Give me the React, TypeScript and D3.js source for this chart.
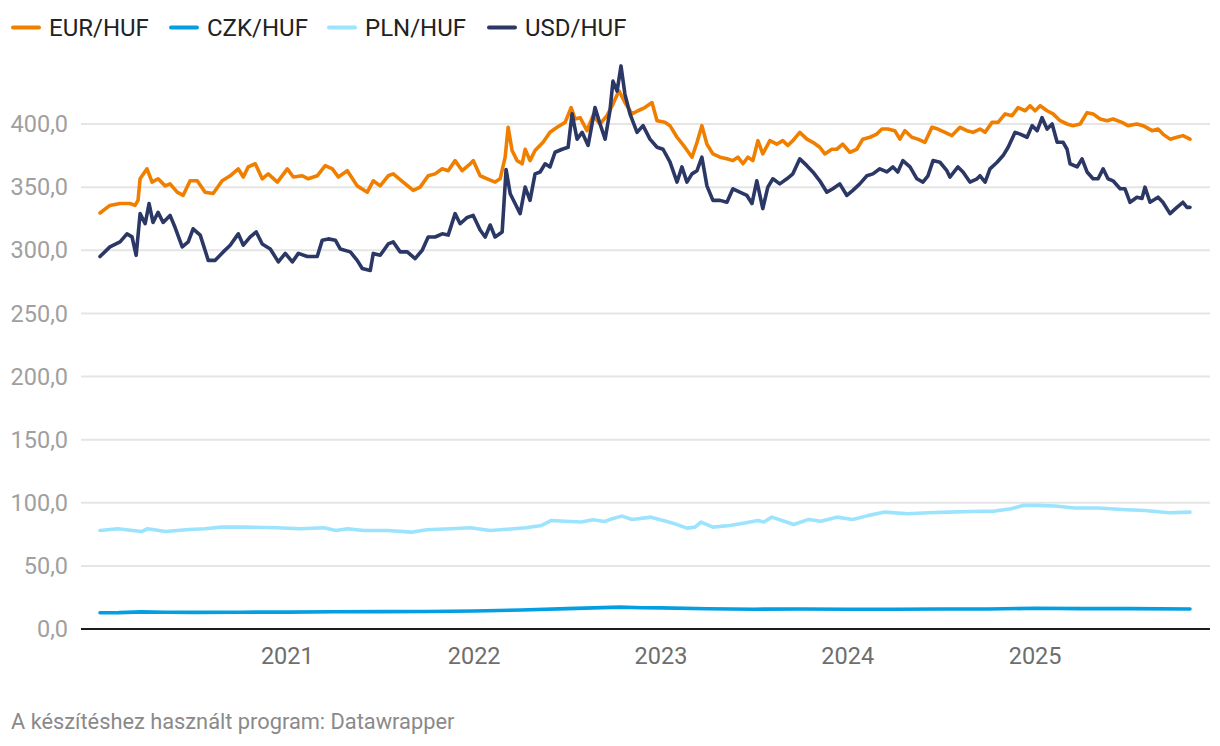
import { useMemo } from "react";
import * as d3 from "d3";

// values, [decimal year, HUF]
const EUR_HUF: [number, number][] = [
  [2020.0, 329.5], [2020.053, 335.5], [2020.107, 337], [2020.16, 337], [2020.187, 335.5], [2020.203, 339.5],
  [2020.214, 356.6], [2020.251, 364.5], [2020.278, 354], [2020.31, 356.6], [2020.348, 351], [2020.374, 352.6],
  [2020.412, 346], [2020.444, 343.5], [2020.481, 355], [2020.519, 355], [2020.561, 346], [2020.604, 345],
  [2020.652, 355], [2020.695, 359], [2020.738, 364.5], [2020.765, 358], [2020.791, 366], [2020.829, 368.5],
  [2020.866, 356.6], [2020.898, 360.5], [2020.947, 354], [2021.0, 364.5], [2021.032, 358], [2021.08, 359],
  [2021.112, 356.6], [2021.16, 359], [2021.203, 367], [2021.241, 364.5], [2021.273, 358], [2021.321, 363],
  [2021.374, 351], [2021.428, 346], [2021.46, 355], [2021.497, 351], [2021.54, 359], [2021.567, 360.5],
  [2021.62, 354], [2021.674, 347.4], [2021.711, 350], [2021.754, 359], [2021.791, 360.5], [2021.829, 364.5],
  [2021.861, 363], [2021.898, 371], [2021.936, 363], [2021.979, 368.5], [2021.995, 371], [2022.032, 359],
  [2022.07, 356.6], [2022.112, 354], [2022.139, 356.6], [2022.166, 373.7], [2022.182, 397.4], [2022.203, 379],
  [2022.23, 371], [2022.257, 368.5], [2022.273, 380], [2022.299, 371], [2022.326, 379], [2022.369, 385.5],
  [2022.406, 393.4], [2022.444, 397.4], [2022.487, 401.3], [2022.519, 413], [2022.54, 404], [2022.567, 405],
  [2022.604, 394.7], [2022.636, 406.6], [2022.674, 400], [2022.711, 406.6], [2022.743, 415.8], [2022.775, 426.3],
  [2022.807, 417], [2022.845, 408], [2022.877, 410.5], [2022.914, 413], [2022.952, 417], [2022.979, 402.6],
  [2023.021, 401.3], [2023.048, 398.7], [2023.086, 389.5], [2023.128, 381.6], [2023.166, 373.7], [2023.193, 385.5],
  [2023.219, 398.7], [2023.246, 384], [2023.278, 376.3], [2023.316, 373.7], [2023.353, 372.4], [2023.385, 371],
  [2023.412, 373.7], [2023.439, 368.5], [2023.465, 373.7], [2023.492, 371], [2023.519, 386.8], [2023.545, 376.3],
  [2023.583, 386.8], [2023.62, 384], [2023.652, 386.8], [2023.679, 383], [2023.706, 386.8], [2023.743, 393.4],
  [2023.781, 388], [2023.813, 385.5], [2023.85, 381.6], [2023.877, 376.3], [2023.914, 380], [2023.941, 380],
  [2023.973, 384], [2024.011, 377.6], [2024.048, 380], [2024.08, 388], [2024.118, 389.5], [2024.155, 392],
  [2024.182, 396], [2024.214, 396], [2024.251, 394.7], [2024.278, 388], [2024.305, 394.7], [2024.342, 389.5],
  [2024.374, 388], [2024.412, 385.5], [2024.449, 397.4], [2024.481, 396], [2024.519, 393.4], [2024.556, 390.8],
  [2024.599, 397.4], [2024.636, 394.7], [2024.668, 393.4], [2024.706, 396], [2024.733, 393.4], [2024.77, 401.3],
  [2024.802, 401.3], [2024.84, 408], [2024.877, 406.6], [2024.909, 413], [2024.947, 410.5], [2024.973, 414.5],
  [2025.0, 410.5], [2025.027, 414.5], [2025.064, 410.5], [2025.096, 408], [2025.134, 402.6], [2025.171, 400],
  [2025.203, 398.7], [2025.241, 400], [2025.278, 409], [2025.31, 408], [2025.348, 404], [2025.385, 402.6],
  [2025.417, 404], [2025.465, 401.3], [2025.497, 398.7], [2025.545, 400], [2025.578, 398.7], [2025.626, 394.7],
  [2025.658, 396], [2025.684, 392], [2025.722, 388], [2025.759, 389.5], [2025.791, 390.8], [2025.829, 388],
];

const CZK_HUF: [number, number][] = [
  [2020.0, 12.9], [2020.1, 13.0], [2020.22, 13.6], [2020.35, 13.3], [2020.5, 13.2], [2020.75, 13.3],
  [2021.0, 13.4], [2021.25, 13.7], [2021.5, 13.8], [2021.75, 13.9], [2022.0, 14.3], [2022.25, 15.0],
  [2022.5, 16.1], [2022.78, 17.3], [2022.9, 16.8], [2023.0, 16.7], [2023.25, 16.0], [2023.5, 15.7],
  [2023.75, 15.9], [2024.0, 15.6], [2024.25, 15.7], [2024.5, 15.9], [2024.75, 15.8], [2025.0, 16.4],
  [2025.25, 16.1], [2025.5, 16.1], [2025.829, 15.9],
];

const PLN_HUF: [number, number][] = [
  [2020.0, 78.0], [2020.095, 79.4], [2020.222, 77.2], [2020.254, 79.4], [2020.349, 77.2], [2020.476, 78.8],
  [2020.561, 79.4], [2020.646, 80.7], [2020.773, 80.7], [2020.942, 80.2], [2021.07, 79.4], [2021.196, 80.2],
  [2021.26, 78.0], [2021.323, 79.4], [2021.408, 78.0], [2021.535, 78.0], [2021.662, 76.7], [2021.747, 78.6],
  [2021.874, 79.4], [2021.98, 80.2], [2022.086, 78.0], [2022.213, 79.4], [2022.276, 80.2], [2022.361, 82.0],
  [2022.414, 86.0], [2022.488, 85.4], [2022.573, 84.7], [2022.636, 86.5], [2022.7, 85.2], [2022.738, 87.3],
  [2022.791, 89.4], [2022.845, 86.8], [2022.947, 88.6], [2023.011, 86.0], [2023.075, 83.3], [2023.139, 79.9],
  [2023.182, 80.7], [2023.214, 84.7], [2023.278, 80.7], [2023.369, 82.0], [2023.455, 84.1], [2023.519, 86.0],
  [2023.551, 84.7], [2023.594, 88.6], [2023.647, 86.0], [2023.711, 82.8], [2023.791, 86.8], [2023.856, 85.4],
  [2023.941, 88.6], [2024.027, 86.8], [2024.112, 90.0], [2024.198, 92.6], [2024.321, 91.3], [2024.428, 92.1],
  [2024.535, 92.6], [2024.663, 93.1], [2024.786, 93.4], [2024.872, 95.2], [2024.936, 97.9], [2025.0, 97.9],
  [2025.107, 97.4], [2025.209, 95.8], [2025.337, 95.8], [2025.465, 94.7], [2025.588, 93.9], [2025.717, 92.1],
  [2025.829, 92.6],
];

const USD_HUF: [number, number][] = [
  [2020.0, 295], [2020.053, 302.7], [2020.107, 306.6], [2020.144, 313], [2020.171, 310.6], [2020.193, 296],
  [2020.214, 329], [2020.241, 321], [2020.262, 337], [2020.283, 322], [2020.31, 330], [2020.337, 322],
  [2020.374, 327.6], [2020.401, 318], [2020.439, 302.7], [2020.471, 306.6], [2020.497, 317], [2020.535, 312],
  [2020.578, 292], [2020.615, 292], [2020.658, 298.7], [2020.695, 304], [2020.738, 313], [2020.765, 304],
  [2020.802, 310.6], [2020.834, 314.5], [2020.866, 305], [2020.909, 301], [2020.952, 290.8], [2020.989, 297.5],
  [2021.027, 290.8], [2021.059, 297.5], [2021.107, 295], [2021.16, 295], [2021.187, 308], [2021.219, 309],
  [2021.257, 308], [2021.283, 301], [2021.337, 298.7], [2021.374, 292], [2021.401, 285.6], [2021.444, 284],
  [2021.46, 297.5], [2021.497, 296], [2021.54, 305], [2021.567, 306.6], [2021.604, 298.7], [2021.642, 298.7],
  [2021.684, 293.4], [2021.722, 300], [2021.754, 310.5], [2021.791, 310.5], [2021.829, 313], [2021.861, 312],
  [2021.898, 329], [2021.925, 321], [2021.963, 326], [2021.995, 327.6], [2022.032, 316], [2022.059, 310.5],
  [2022.086, 320], [2022.112, 310.5], [2022.15, 314.5], [2022.171, 364], [2022.193, 344.7], [2022.219, 337],
  [2022.246, 329], [2022.273, 350], [2022.299, 339.5], [2022.326, 360.5], [2022.353, 362], [2022.38, 368.5],
  [2022.406, 366], [2022.433, 377.6], [2022.471, 380], [2022.503, 381.6], [2022.524, 408], [2022.551, 388],
  [2022.578, 393.4], [2022.61, 383], [2022.647, 413], [2022.674, 400], [2022.701, 388], [2022.727, 410.5],
  [2022.743, 434], [2022.765, 426], [2022.786, 446], [2022.807, 423.7], [2022.834, 408], [2022.872, 393.4],
  [2022.904, 398.7], [2022.941, 388], [2022.979, 381.6], [2023.011, 380], [2023.048, 370], [2023.086, 354],
  [2023.112, 366], [2023.139, 354], [2023.166, 360.5], [2023.193, 363], [2023.219, 373.7], [2023.246, 351],
  [2023.278, 339.5], [2023.316, 339.5], [2023.353, 338], [2023.385, 348.7], [2023.422, 346], [2023.46, 343.4],
  [2023.487, 337], [2023.513, 355], [2023.545, 333], [2023.572, 350], [2023.599, 356.6], [2023.636, 352.6],
  [2023.674, 356.6], [2023.706, 360.5], [2023.743, 372.4], [2023.781, 367], [2023.813, 362], [2023.85, 355],
  [2023.888, 346], [2023.92, 348.7], [2023.957, 352.6], [2023.995, 343.4], [2024.027, 347.4], [2024.064, 352.6],
  [2024.102, 359], [2024.134, 360.5], [2024.171, 364.5], [2024.209, 362], [2024.241, 366], [2024.267, 362],
  [2024.294, 371], [2024.332, 366], [2024.369, 356.6], [2024.401, 354], [2024.428, 359], [2024.455, 371],
  [2024.492, 369.7], [2024.529, 363], [2024.545, 358], [2024.588, 366], [2024.615, 362], [2024.652, 354],
  [2024.69, 356.6], [2024.706, 359], [2024.733, 354], [2024.759, 364.5], [2024.797, 369.7], [2024.829, 375],
  [2024.856, 381.6], [2024.893, 393.4], [2024.92, 392], [2024.957, 389.5], [2024.984, 398.7], [2025.011, 394.7],
  [2025.037, 405], [2025.064, 396], [2025.091, 400], [2025.118, 385.5], [2025.15, 385.5], [2025.171, 380],
  [2025.187, 368.5], [2025.225, 366], [2025.251, 372.4], [2025.278, 362], [2025.31, 356.6], [2025.337, 356.6],
  [2025.364, 364.5], [2025.39, 356.6], [2025.417, 355], [2025.455, 348.7], [2025.481, 348.7], [2025.508, 338],
  [2025.545, 342], [2025.572, 341], [2025.588, 350], [2025.615, 338], [2025.658, 342], [2025.684, 338],
  [2025.722, 329], [2025.759, 334], [2025.791, 338], [2025.813, 334], [2025.829, 334],
];

const SERIES_NAMES = ["EUR/HUF", "CZK/HUF", "PLN/HUF", "USD/HUF"];
const SERIES_COLORS = ["#f07f00", "#049fe0", "#9ce4fd", "#2b3765"];
const YEAR_TICKS = [2021, 2022, 2023, 2024, 2025];
const Y_TICKS = [0, 50, 100, 150, 200, 250, 300, 350, 400];
const SOURCE = "A készítéshez használt program: Datawrapper";

const W = 1220;
const H = 746;
const FONT = "Roboto, 'Noto Sans', sans-serif";

// decimal year -> UTC date
function toDate(t: number) {
  const y = Math.floor(t);
  const a = Date.UTC(y, 0, 1);
  const b = Date.UTC(y + 1, 0, 1);
  return new Date(a + (t - y) * (b - a));
}

const huFmt = d3.formatLocale({ decimal: ",", thousands: " ", grouping: [3], currency: ["", " Ft"] }).format(".1f");

export default function App() {
  const series = [EUR_HUF, CZK_HUF, PLN_HUF, USD_HUF];

  const x = useMemo(() => d3.scaleUtc().domain([toDate(2020), toDate(2025.829)]).range([100, 1190]), []);
  const y = useMemo(() => d3.scaleLinear().domain([0, 400]).range([629, 124]), []);

  const line = d3.line<[number, number]>()
    .x((d) => x(toDate(d[0])))
    .y((d) => y(d[1]))
    .curve(d3.curveLinear);

  const legendX = [11, 169, 327, 487];
  // draw order: PLN, CZK, EUR, USD on top
  const order = [2, 1, 0, 3];

  return (
    <div style={{ position: "absolute", left: 0, top: 0, width: W, height: H, background: "#fff" }}>
      <svg width={W} height={H} viewBox={`0 0 ${W} ${H}`} style={{ display: "block", fontFamily: FONT }}>
        {/* legend */}
        <g>
          {SERIES_NAMES.map((name, i) => (
            <g key={name} transform={`translate(${legendX[i]},27.5)`}>
              <line x1={2} x2={28} y1={0} y2={0} stroke={SERIES_COLORS[i]} strokeWidth={4} strokeLinecap="round" />
              <text x={38} y={0} dy="0.35em" fontSize={24} fill="#222">{name}</text>
            </g>
          ))}
        </g>

        {/* y grid + labels */}
        <g>
          {Y_TICKS.map((v) => (
            <g key={v} transform={`translate(0,${y(v)})`}>
              {v !== 0 && <line x1={81} x2={1210} stroke="#e5e5e5" strokeWidth={2} />}
              <text x={68} dy="0.35em" textAnchor="end" fontSize={23.5} fill="#a0a0a0">{huFmt(v)}</text>
            </g>
          ))}
        </g>

        {/* lines */}
        <g fill="none" strokeLinejoin="round" strokeLinecap="round">
          {order.map((i) => (
            <path key={SERIES_NAMES[i]} d={line(series[i]) ?? ""} stroke={SERIES_COLORS[i]} strokeWidth={3.6} />
          ))}
        </g>

        {/* baseline */}
        <line x1={81} x2={1210} y1={y(0)} y2={y(0)} stroke="#1d1d1d" strokeWidth={2} />

        {/* x labels */}
        <g>
          {YEAR_TICKS.map((yr) => (
            <text key={yr} x={x(toDate(yr))} y={655.5} dy="0.35em" textAnchor="middle" fontSize={23.5} fill="#6e6e6e">
              {yr}
            </text>
          ))}
        </g>

        <text x={11} y={721} dy="0.35em" fontSize={21.8} fill="#8a8a8a">{SOURCE}</text>
      </svg>
    </div>
  );
}
